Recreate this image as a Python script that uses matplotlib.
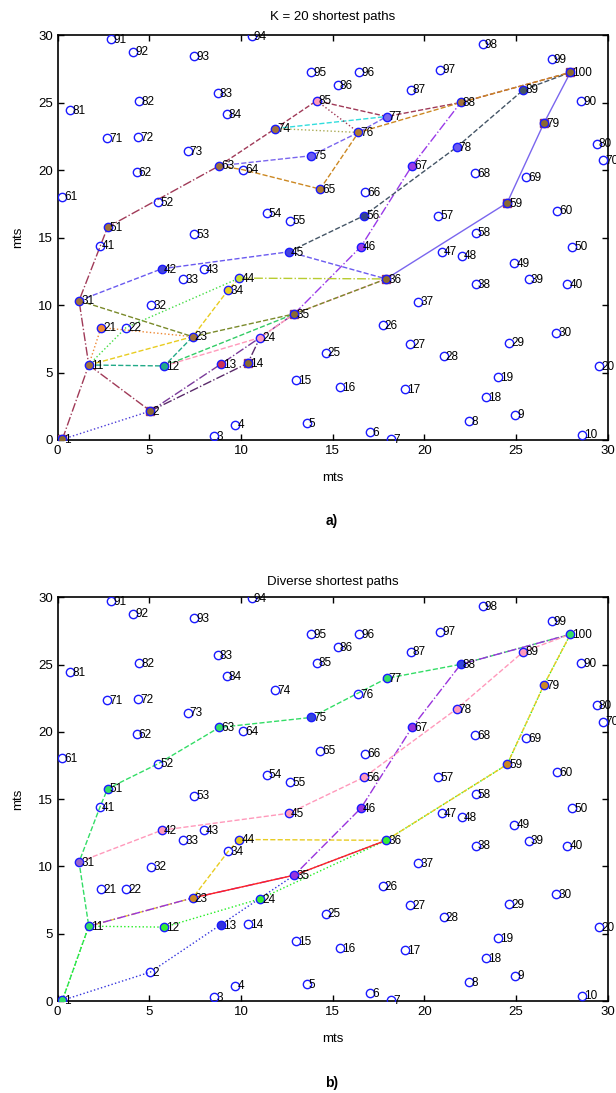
import matplotlib
matplotlib.use("Agg")
import matplotlib.pyplot as plt

plt.rcParams['font.family'] = ['Liberation Sans', 'DejaVu Sans']

# ---- node coordinates (metres), node id = index+1 ----
node_x = [0.26, 5.06, 8.53, 9.69, 13.59, 17.04, 18.19, 22.44, 24.95, 28.61,
          1.70, 5.82, 8.90, 10.37, 13.01, 15.41, 18.94, 23.39, 24.01, 29.55,
          2.37, 3.73, 7.37, 11.04, 14.63, 17.74, 19.23, 21.05, 24.63, 27.19,
          1.17, 5.10, 6.86, 9.31, 12.91, 17.92, 19.68, 22.81, 25.70, 27.81,
          2.31, 5.68, 7.99, 9.91, 12.61, 16.55, 20.95, 22.05, 24.92, 28.08,
          2.73, 5.48, 7.46, 11.41, 12.68, 16.73, 20.77, 22.81, 24.52, 27.26,
          0.26, 4.31, 8.82, 10.13, 14.32, 16.77, 19.33, 22.79, 25.55, 29.77,
          2.71, 4.40, 7.10, 11.88, 13.82, 16.41, 17.95, 21.77, 26.52, 29.41,
          0.68, 4.46, 8.73, 9.22, 14.13, 15.28, 19.26, 21.99, 25.41, 28.55,
          2.91, 4.13, 7.46, 10.59, 13.82, 16.46, 20.86, 23.19, 26.95, 27.97]
node_y = [0.05, 2.15, 0.30, 1.14, 1.24, 0.59, 0.05, 1.41, 1.88, 0.39,
          5.56, 5.49, 5.62, 5.69, 4.43, 3.91, 3.78, 3.17, 4.65, 5.47,
          8.33, 8.33, 7.66, 7.59, 6.48, 8.51, 7.12, 6.21, 7.22, 7.96,
          10.33, 9.99, 11.94, 11.13, 9.35, 11.94, 10.26, 11.55, 11.92, 11.55,
          14.41, 12.69, 12.69, 12.00, 13.95, 14.34, 13.97, 13.67, 13.11, 14.34,
          15.78, 17.63, 15.26, 16.82, 16.27, 16.64, 16.62, 15.38, 17.58, 17.01,
          18.03, 19.83, 20.33, 20.03, 18.60, 18.38, 20.33, 19.76, 19.51, 20.77,
          22.35, 22.43, 21.42, 23.09, 21.07, 22.80, 23.98, 21.71, 23.47, 21.96,
          24.46, 25.10, 25.69, 24.16, 25.15, 26.31, 25.96, 25.02, 25.96, 25.10,
          29.72, 28.78, 28.43, 29.92, 27.25, 27.25, 27.45, 29.35, 28.24, 27.25]

# ---- panel a) : K = 20 shortest paths (segments of paths, node ids) ----
paths_a = [
    [1, 11, 31, 51, 63],
    [63, 74, 85, 77, 88, 100],
    [11, 2],
    [1, 2],
    [2, 13, 24, 35],
    [2, 14, 24],
    [35, 46, 67, 88],
    [12, 35],
    [12, 24, 35, 36],
    [11, 12, 23],
    [11, 23, 34, 44],
    [44, 36],
    [11, 21, 23],
    [11, 22, 44],
    [31, 23, 35, 36],
    [31, 42, 45, 36],
    [45, 56, 78, 89, 100],
    [36, 59, 79, 100],
    [63, 64, 65, 76, 88, 100],
    [63, 75, 76, 77],
    [74, 77],
    [74, 76],
    [85, 76],
]
colors_a = ['#a03a58', '#a03a58', '#a03a58', '#4a3ad8', '#7a3a9a', '#5a2a6a',
            '#9a3ae8', '#33cc66', '#ff9abb', '#22aa88', '#e8cc20', '#b8cc30',
            '#ee8833', '#44dd44', '#7a8a2a', '#6a5af0', '#445566', '#7a66ee',
            '#cc8822', '#7a66ee', '#33dddd', '#aaaa55', '#a03a58']
styles_a = ['-.', '--', '-.', ':', '-.', '-.', '-.', '--', '--', '--', '--', '-.',
            ':', ':', '--', '--', '--', '-', '--', '--', '--', ':', ':']

marks_a_sq = [1, 2, 14, 35, 36, 59, 79, 100]
marks_a_dot = [11, 31, 51, 63, 74, 76, 77, 88, 65, 75, 56, 45, 42, 12, 21, 23,
               24, 46, 67, 78, 89, 13, 85, 44, 34]
marks_a_dot_col = ['#a0703a', '#a0703a', '#a0703a', '#a0703a', '#a0703a', '#b07a30',
                   '#7a66ee', '#a0703a', '#b07a30', '#6a5af0', '#334488', '#4444dd',
                   '#4444dd', '#22aa88', '#ee8833', '#a0703a', '#ff9abb', '#9a3ae8',
                   '#9a3ae8', '#6a5af0', '#445566', '#cc3355', '#ff9abb', '#c8e030',
                   '#e8cc20']

# ---- panel b) : diverse shortest paths ----
paths_b = [
    [1, 11, 31, 41, 51, 52, 63, 75, 77, 88, 100],
    [1, 2, 35, 36],
    [1, 11, 12, 24, 36, 59, 79, 100],
    [11, 23, 34, 44, 36, 59, 79, 100],
    [11, 23, 35, 46, 67, 88, 100],
    [23, 35, 36],
    [31, 42, 45, 56, 78, 89, 100],
]
colors_b = ['#33dd66', '#3333dd', '#22ee22', '#e8cc20', '#9933dd', '#ff2222', '#ff99bb']
styles_b = ['--', ':', ':', '--', '-.', '-', '--']

marks_b = [1, 11, 31, 51, 63, 75, 77, 88, 100, 42, 45, 56, 78, 89, 12, 24, 36,
           59, 79, 23, 35, 46, 67, 44, 13]
marks_b_col = ['#33dd66', '#33dd66', '#9966cc', '#33dd66', '#33dd66', '#3344dd',
               '#33dd66', '#3344dd', '#33dd66', '#ff99bb', '#ff99bb', '#ff99bb',
               '#ff99bb', '#ff99bb', '#33ee33', '#33ee33', '#33ee33', '#cc8822',
               '#cc8822', '#cc8822', '#9933dd', '#9933dd', '#9933dd', '#e8cc20',
               '#3333dd']

W, H = 616, 1093
fig = plt.figure(figsize=(W / 100, H / 100), dpi=100)
ax_a = fig.add_axes([57.6 / W, (H - 440) / H, 550 / W, 404.7 / H])
ax_b = fig.add_axes([57.6 / W, (H - 1001) / H, 550 / W, 403.7 / H])


def draw(ax, paths, cols, styles, title, tpad):
    for p, c, s in zip(paths, cols, styles):
        xs = [node_x[n - 1] for n in p]
        ys = [node_y[n - 1] for n in p]
        ax.plot(xs, ys, color=c, ls=s, lw=1.0, zorder=2)
    ax.plot(node_x, node_y, 'o', mfc='none', mec='#1a1aff', ms=6, mew=1.0, zorder=4)
    for i, (x, y) in enumerate(zip(node_x, node_y)):
        ax.annotate(str(i + 1), (x, y), xytext=(1.5, -0.5), textcoords='offset points',
                    ha='left', va='center', fontsize=8.5, color='black',
                    annotation_clip=False, clip_on=False, zorder=5)
    ax.set_xlim(0, 30)
    ax.set_ylim(0, 30)
    ax.set_xticks(range(0, 31, 5))
    ax.set_yticks(range(0, 31, 5))
    ax.tick_params(direction='in', top=True, right=True, labelsize=9.5, length=4, width=1)
    for sp in ax.spines.values():
        sp.set_linewidth(1.2)
    ax.set_xlabel('mts', fontsize=9.5, labelpad=11)
    ax.set_ylabel('mts', fontsize=9.5, labelpad=10)
    ax.set_title(title, fontsize=9.5, pad=tpad)


draw(ax_a, paths_a, colors_a, styles_a, 'K = 20 shortest paths', 11)
for n in marks_a_sq:
    ax_a.plot(node_x[n - 1], node_y[n - 1], 's', ms=6, mfc='#8a6a30', mec='#9a3a68',
              mew=1.0, zorder=3)
for n, c in zip(marks_a_dot, marks_a_dot_col):
    ax_a.plot(node_x[n - 1], node_y[n - 1], 'o', ms=5, mfc=c, mec=c, zorder=3)

draw(ax_b, paths_b, colors_b, styles_b, 'Diverse shortest paths', 9)
for n, c in zip(marks_b, marks_b_col):
    ax_b.plot(node_x[n - 1], node_y[n - 1], 'o', ms=5, mfc=c, mec=c, zorder=3)

fig.text(332 / W, 1 - 521 / H, 'a)', ha='center', va='center', fontsize=10, fontweight='bold')
fig.text(332 / W, 1 - 1083 / H, 'b)', ha='center', va='center', fontsize=10, fontweight='bold')

fig.savefig('out.png', dpi=100)
